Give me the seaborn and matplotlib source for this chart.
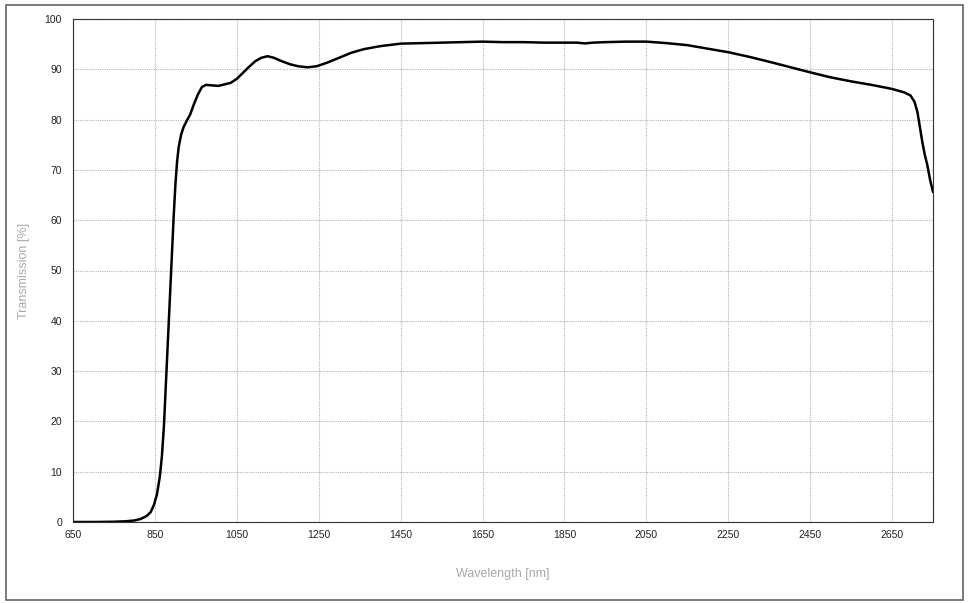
import numpy as np
import pandas as pd
import matplotlib
matplotlib.use("Agg")
import matplotlib.pyplot as plt
import seaborn as sns
from matplotlib.patches import Rectangle

# transmission curve
wavelength = [650, 700, 750, 780, 800, 815, 830, 840, 848, 855, 862, 867, 872, 876,
              880, 884, 888, 892, 896, 900, 904, 908, 914, 920, 928, 936, 945, 955,
              965, 975, 990, 1005, 1020, 1035, 1050, 1065, 1080, 1095, 1110, 1125,
              1140, 1160, 1180, 1200, 1222, 1245, 1270, 1300, 1330, 1360, 1400, 1450,
              1500, 1550, 1600, 1650, 1700, 1750, 1800, 1850, 1880, 1900, 1920, 1950,
              2000, 2050, 2100, 2150, 2200, 2250, 2300, 2350, 2400, 2450, 2500, 2550,
              2600, 2650, 2680, 2695, 2705, 2712, 2718, 2724, 2730, 2736, 2743, 2750]
transmission = [0.0, 0.0, 0.05, 0.15, 0.3, 0.6, 1.2, 2.0, 3.5, 5.5, 9, 13, 19, 26,
                33, 40, 47, 54, 61, 67, 71.5, 74.5, 77, 78.5, 79.8, 81, 83, 85,
                86.5, 86.9, 86.8, 86.7, 87.0, 87.3, 88.1, 89.3, 90.5, 91.6, 92.3, 92.6,
                92.3, 91.6, 91.0, 90.6, 90.4, 90.6, 91.3, 92.3, 93.3, 94.0, 94.6, 95.1,
                95.2, 95.3, 95.4, 95.5, 95.4, 95.4, 95.3, 95.3, 95.3, 95.15, 95.3, 95.4,
                95.5, 95.5, 95.2, 94.8, 94.1, 93.4, 92.5, 91.5, 90.45, 89.4, 88.4, 87.6,
                86.9, 86.1, 85.4, 84.8, 83.5, 81.5, 78.5, 75.5, 73, 71, 68, 65.6]
x_ticks = [650, 850, 1050, 1250, 1450, 1650, 1850, 2050, 2250, 2450, 2650]
y_ticks = [0, 10, 20, 30, 40, 50, 60, 70, 80, 90, 100]

df = pd.DataFrame({"Wavelength": wavelength, "Transmission": transmission})

sns.set_style("white")
plt.rcParams["font.family"] = ["Liberation Sans", "DejaVu Sans"]

fig = plt.figure(figsize=(9.69, 6.03), dpi=100)
ax = fig.add_axes([73 / 969, 81 / 603, 860 / 969, 503 / 603])

sns.lineplot(data=df, x="Wavelength", y="Transmission", ax=ax,
             color="black", linewidth=1.8, estimator=None, sort=False)

ax.set_xlim(650, 2750)
ax.set_ylim(0, 100)
ax.set_xticks(x_ticks)
ax.set_yticks(y_ticks)
ax.tick_params(axis="both", length=0, labelsize=7.5, colors="#222222")
ax.tick_params(axis="x", pad=6)
ax.tick_params(axis="y", pad=8)
ax.grid(True, color="#b4b4b4", linestyle=(0, (1, 1)), linewidth=0.8)
for s in ax.spines.values():
    s.set_color("#333333")
    s.set_linewidth(0.8)
    s.set_linestyle((0, (1, 0.6)))

ax.set_xlabel("Wavelength [nm]", color="#a8a8a8", fontsize=9)
ax.set_ylabel("Transmission [%]", color="#a8a8a8", fontsize=9)
ax.xaxis.set_label_coords(0.5, -0.091)
ax.yaxis.set_label_coords(-0.05, 0.5)

# outer frame around the whole chart
fig.patches.append(Rectangle((6 / 969, 3 / 603), 957 / 969, 595 / 603,
                             transform=fig.transFigure, fill=False,
                             edgecolor="#707070", linewidth=1.3))

fig.savefig("out.png", dpi=100)
